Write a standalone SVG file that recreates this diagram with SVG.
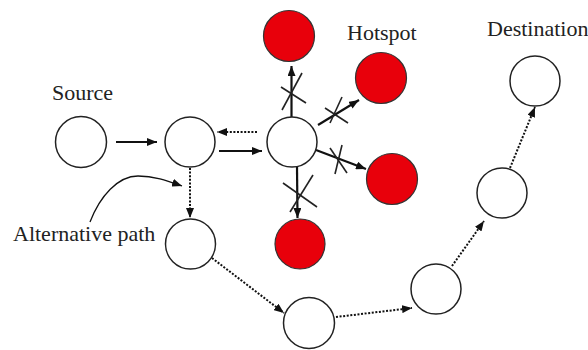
<svg xmlns="http://www.w3.org/2000/svg" width="588" height="350" viewBox="0 0 588 350">
  <style>
    .node { fill: #ffffff; stroke: #222; stroke-width: 1.5; }
    .hot { fill: #e8000b; stroke: #333; stroke-width: 1.2; }
    .lbl { font-family: "Liberation Serif", "Times New Roman", serif; font-size: 22px; fill: #222; }
    .solid { stroke: #111; stroke-width: 2.2; fill: none; }
    .dot { stroke: #111; stroke-width: 2; stroke-dasharray: 2 1.6; fill: none; }
    .thin { stroke: #111; stroke-width: 1.3; fill: none; }
    .x { stroke: #222; stroke-width: 1.6; fill: none; }
  </style>
  <defs>
    <marker id="ah" viewBox="0 0 10 8" refX="10" refY="4" markerWidth="10" markerHeight="8" markerUnits="userSpaceOnUse" orient="auto">
      <path d="M0,0 L10,4 L0,8 Z" fill="#111"/>
    </marker>
  </defs>
  <rect width="588" height="350" fill="#ffffff"/>

  <g id="labels">
    <text class="lbl" x="52" y="100">Source</text>
    <text class="lbl" x="347" y="40">Hotspot</text>
    <text class="lbl" x="487" y="36">Destination</text>
    <text class="lbl" x="13" y="241">Alternative path</text>
  </g>

  <g id="connectors">
    <line class="solid" x1="116" y1="142" x2="157" y2="142" marker-end="url(#ah)"/>
    <line class="dot" x1="257" y1="132" x2="217" y2="132" marker-end="url(#ah)"/>
    <line class="solid" x1="219" y1="151" x2="262" y2="151" marker-end="url(#ah)"/>
    <line class="solid" x1="291.5" y1="117" x2="291.5" y2="66" marker-end="url(#ah)"/>
    <line class="solid" x1="318" y1="125" x2="359" y2="100" marker-end="url(#ah)"/>
    <line class="solid" x1="316" y1="150" x2="366" y2="169" marker-end="url(#ah)"/>
    <line class="solid" x1="297" y1="167" x2="297.5" y2="218" marker-end="url(#ah)"/>
    <line class="dot" x1="190" y1="168" x2="190" y2="218" marker-end="url(#ah)"/>
    <line class="dot" x1="212" y1="258" x2="284" y2="313" marker-end="url(#ah)"/>
    <line class="dot" x1="336" y1="317" x2="412" y2="308" marker-end="url(#ah)"/>
    <line class="dot" x1="452" y1="266" x2="484" y2="221" marker-end="url(#ah)"/>
    <line class="dot" x1="510" y1="168" x2="535" y2="107" marker-end="url(#ah)"/>
    <path class="thin" d="M90,222 C100,196 118,176 138,176 C155,176 168,181 182,186" marker-end="url(#ah)"/>
    <g id="blocked">
      <line class="x" x1="282" y1="110" x2="302" y2="73"/>
      <line class="x" x1="281" y1="87" x2="306" y2="103"/>
      <line class="x" x1="330" y1="123" x2="342" y2="97"/>
      <line class="x" x1="325" y1="108" x2="348" y2="123"/>
      <line class="x" x1="330" y1="148" x2="347" y2="173"/>
      <line class="x" x1="342" y1="145" x2="335" y2="174"/>
      <line class="x" x1="283" y1="183" x2="317" y2="207"/>
      <line class="x" x1="290" y1="212" x2="313" y2="175"/>
    </g>
  </g>

  <g id="source"><circle class="node" cx="81" cy="142" r="25.5"/></g>
  <g id="n2"><circle class="node" cx="190" cy="142" r="25"/></g>
  <g id="hub"><circle class="node" cx="292" cy="142" r="25"/></g>
  <g id="hot-top"><circle class="hot" cx="289" cy="36" r="25.5"/></g>
  <g id="hot-ne"><circle class="hot" cx="381" cy="78" r="25.5"/></g>
  <g id="hot-se"><circle class="hot" cx="392" cy="179" r="25.5"/></g>
  <g id="hot-bottom"><circle class="hot" cx="300" cy="244" r="25"/></g>
  <g id="alt"><circle class="node" cx="190.5" cy="244" r="25"/></g>
  <g id="n-bottom"><circle class="node" cx="309" cy="323" r="25.5"/></g>
  <g id="n-right"><circle class="node" cx="436" cy="289" r="25"/></g>
  <g id="n-mid"><circle class="node" cx="502" cy="193" r="25"/></g>
  <g id="destination"><circle class="node" cx="535" cy="81" r="25"/></g>
</svg>
